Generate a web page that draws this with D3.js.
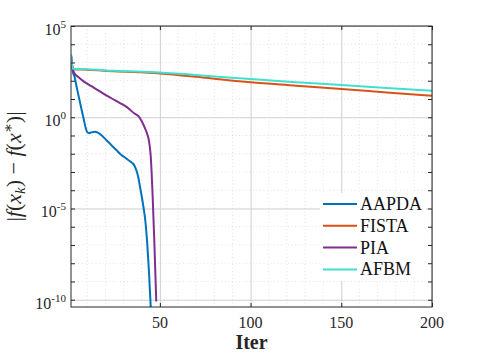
<!DOCTYPE html>
<html>
<head>
<meta charset="utf-8">
<script src="https://cdn.jsdelivr.net/npm/d3@7"></script>
<style>
  body { margin: 0; background: #fff; }
  svg, svg text { font-family: "Liberation Serif", "Times New Roman", Times, "DejaVu Serif", serif; }
</style>
</head>
<body>
<svg id="chart"></svg>
<script>
// values (gap |f(x_k) - f(x*)|)
const aapdaIter = [1, 2, 3, 4, 5, 6, 7, 8, 9, 10, 11, 12, 14, 16, 18, 20, 22, 24, 26, 28, 30, 32, 34, 35, 36, 37, 38, 39, 40, 41, 42, 43, 44, 45, 46];
const aapdaGap = [2.6e3, 3.2e2, 1.6e2, 52, 18, 6.3, 2.2, 0.8, 0.28, 0.15, 0.135, 0.145, 0.16, 0.14, 0.1, 0.063, 0.04, 0.025, 0.016, 0.01, 7e-3, 5e-3, 3.6e-3, 3e-3, 2.2e-3, 1.26e-3, 5.6e-4, 1.6e-4, 4.5e-5, 1.1e-5, 2e-6, 1.3e-7, 3.2e-9, 3.2e-11, 1e-12];

const fistaIter = [1, 2, 10, 25, 50, 75, 100, 125, 150, 175, 200];
const fistaGap = [2.6e3, 4.3e2, 4.0e2, 3.3e2, 2.5e2, 1.45e2, 83, 54, 35, 23, 15];

const piaIter = [1, 2, 3, 5, 8, 12, 16, 20, 24, 28, 32, 36, 38, 40, 42, 43, 44, 45, 46, 47, 48];
const piaGap = [2.6e3, 4.3e2, 2.5e2, 1.6e2, 93, 52, 30, 17, 10, 6, 3.5, 1.6, 1.2, 0.6, 0.22, 0.12, 0.05, 6.3e-3, 5e-5, 1e-7, 8e-11];

const afbmIter = [1, 2, 10, 25, 50, 75, 100, 125, 150, 175, 200];
const afbmGap = [2.6e3, 4.5e2, 4.2e2, 3.5e2, 2.8e2, 1.9e2, 1.23e2, 83, 58, 40, 28];

const seriesNames = ["AAPDA", "FISTA", "PIA", "AFBM"];
const seriesColors = ["#0072BD", "#D95319", "#7E2F8E", "#40E0D0"];
const xTicks = [50, 100, 150, 200];
const yTickExps = [5, 0, -5, -10];

const series = [
  { name: seriesNames[0], color: seriesColors[0], pts: aapdaIter.map((k, i) => [k, aapdaGap[i]]) },
  { name: seriesNames[1], color: seriesColors[1], pts: fistaIter.map((k, i) => [k, fistaGap[i]]) },
  { name: seriesNames[2], color: seriesColors[2], pts: piaIter.map((k, i) => [k, piaGap[i]]) },
  { name: seriesNames[3], color: seriesColors[3], pts: afbmIter.map((k, i) => [k, afbmGap[i]]) }
];

const FONT = "'Liberation Serif', 'Times New Roman', Times, serif";
const width = 478, height = 359;
const margin = { top: 26, right: 46, bottom: 52, left: 71 };
const iw = width - margin.left - margin.right;
const ih = height - margin.top - margin.bottom;

const svg = d3.select("#chart").attr("width", width).attr("height", height)
  .attr("font-family", FONT);
const g = svg.append("g").attr("transform", `translate(${margin.left},${margin.top})`);

const x = d3.scaleLinear().domain([1, 200]).range([0, iw]);
const y = d3.scaleLog().domain([4e-11, 1e5]).range([ih, 0]);

// minor grid (dotted)
const xMinor = d3.range(10, 200, 10).filter(v => v % 50 !== 0);
const yMinor = d3.range(-10, 6).filter(e => e % 5 !== 0).map(e => Math.pow(10, e));
g.append("g").selectAll("line").data(xMinor).join("line")
  .attr("x1", d => x(d)).attr("x2", d => x(d)).attr("y1", 0).attr("y2", ih)
  .attr("stroke", "#dcdcdc").attr("stroke-width", 0.8).attr("stroke-dasharray", "1,2.5");
g.append("g").selectAll("line").data(yMinor).join("line")
  .attr("x1", 0).attr("x2", iw).attr("y1", d => y(d)).attr("y2", d => y(d))
  .attr("stroke", "#dcdcdc").attr("stroke-width", 0.8).attr("stroke-dasharray", "1,2.5");

// major grid
g.append("g")
  .call(d3.axisBottom(x).tickValues(xTicks).tickSize(ih).tickFormat(""))
  .call(s => s.select(".domain").remove())
  .selectAll("line").attr("stroke", "#cfcfcf").attr("stroke-width", 1);
g.append("g")
  .call(d3.axisLeft(y).tickValues(yTickExps.map(e => Math.pow(10, e))).tickSize(-iw).tickFormat(""))
  .call(s => s.select(".domain").remove())
  .selectAll("line").attr("stroke", "#cfcfcf").attr("stroke-width", 1);

// lines
svg.append("clipPath").attr("id", "clip")
  .append("rect").attr("width", iw).attr("height", ih);

const line = d3.line()
  .x(d => x(d[0]))
  .y(d => y(d[1]))
  .curve(d3.curveMonotoneX);

g.append("g").attr("clip-path", "url(#clip)")
  .selectAll("path").data(series).join("path")
  .attr("d", d => line(d.pts))
  .attr("fill", "none")
  .attr("stroke", d => d.color)
  .attr("stroke-width", 2);

// axis box and inward ticks
const axisColor = "#262626";
g.append("rect").attr("width", iw).attr("height", ih)
  .attr("fill", "none").attr("stroke", axisColor).attr("stroke-width", 1);

const yAllTicks = d3.range(-10, 6).map(e => Math.pow(10, e));
g.append("g").call(d3.axisBottom(x).tickValues(xTicks).tickSize(-4).tickFormat(""))
  .attr("transform", `translate(0,${ih})`)
  .call(s => s.select(".domain").remove())
  .selectAll("line").attr("stroke", axisColor);
g.append("g").call(d3.axisTop(x).tickValues(xTicks).tickSize(-4).tickFormat(""))
  .call(s => s.select(".domain").remove())
  .selectAll("line").attr("stroke", axisColor);
g.append("g").call(d3.axisLeft(y).tickValues(yAllTicks).tickSize(-4).tickFormat(""))
  .call(s => s.select(".domain").remove())
  .selectAll("line").attr("stroke", axisColor);
g.append("g").call(d3.axisRight(y).tickValues(yAllTicks).tickSize(-4).tickFormat(""))
  .attr("transform", `translate(${iw},0)`)
  .call(s => s.select(".domain").remove())
  .selectAll("line").attr("stroke", axisColor);

// tick labels
g.append("g").selectAll("text").data(xTicks).join("text")
  .attr("x", d => x(d)).attr("y", ih + 21)
  .attr("text-anchor", "middle").attr("font-size", 16).attr("font-family", FONT).attr("fill", "#262626")
  .text(d => d);

const yLab = g.append("g").selectAll("text").data(yTickExps).join("text")
  .attr("x", -5).attr("y", d => y(Math.pow(10, d)) + 9)
  .attr("text-anchor", "end").attr("font-size", 16).attr("font-family", FONT).attr("fill", "#262626");
yLab.append("tspan").text("10");
yLab.append("tspan").attr("font-size", 11).attr("dy", -7).text(d => d);

// axis titles
svg.append("text")
  .attr("x", margin.left + iw / 2).attr("y", 349)
  .attr("text-anchor", "middle").attr("font-size", 20).attr("font-weight", "bold")
  .attr("font-family", FONT).attr("fill", "#262626").text("Iter");

const yTitle = svg.append("text")
  .attr("transform", `translate(21,${margin.top + ih / 2}) rotate(-90)`)
  .attr("text-anchor", "middle").attr("font-size", 22).attr("font-family", FONT).attr("fill", "#262626");
yTitle.append("tspan").text("|");
yTitle.append("tspan").attr("font-style", "italic").text("f");
yTitle.append("tspan").text("(");
yTitle.append("tspan").attr("font-style", "italic").text("x");
yTitle.append("tspan").attr("font-style", "italic").attr("font-size", 15).attr("dy", 4).text("k");
yTitle.append("tspan").attr("dy", -4).text(") − ");
yTitle.append("tspan").attr("font-style", "italic").text("f");
yTitle.append("tspan").text("(");
yTitle.append("tspan").attr("font-style", "italic").text("x");
yTitle.append("tspan").attr("font-size", 15).attr("dy", -8).text("∗");
yTitle.append("tspan").attr("dy", 8).text(")|");

// legend
const lg = svg.append("g").attr("transform", "translate(320,193)");
lg.append("rect").attr("width", 106).attr("height", 88).attr("fill", "#fff");
const row = lg.selectAll("g").data(series).join("g")
  .attr("transform", (d, i) => `translate(0,${11 + i * 21.8})`);
row.append("line").attr("x1", 3).attr("x2", 37).attr("stroke", d => d.color).attr("stroke-width", 2);
row.append("text").attr("x", 40).attr("y", 6).attr("font-size", 18).attr("font-family", FONT).attr("fill", "#111")
  .text(d => d.name);
</script>
</body>
</html>
